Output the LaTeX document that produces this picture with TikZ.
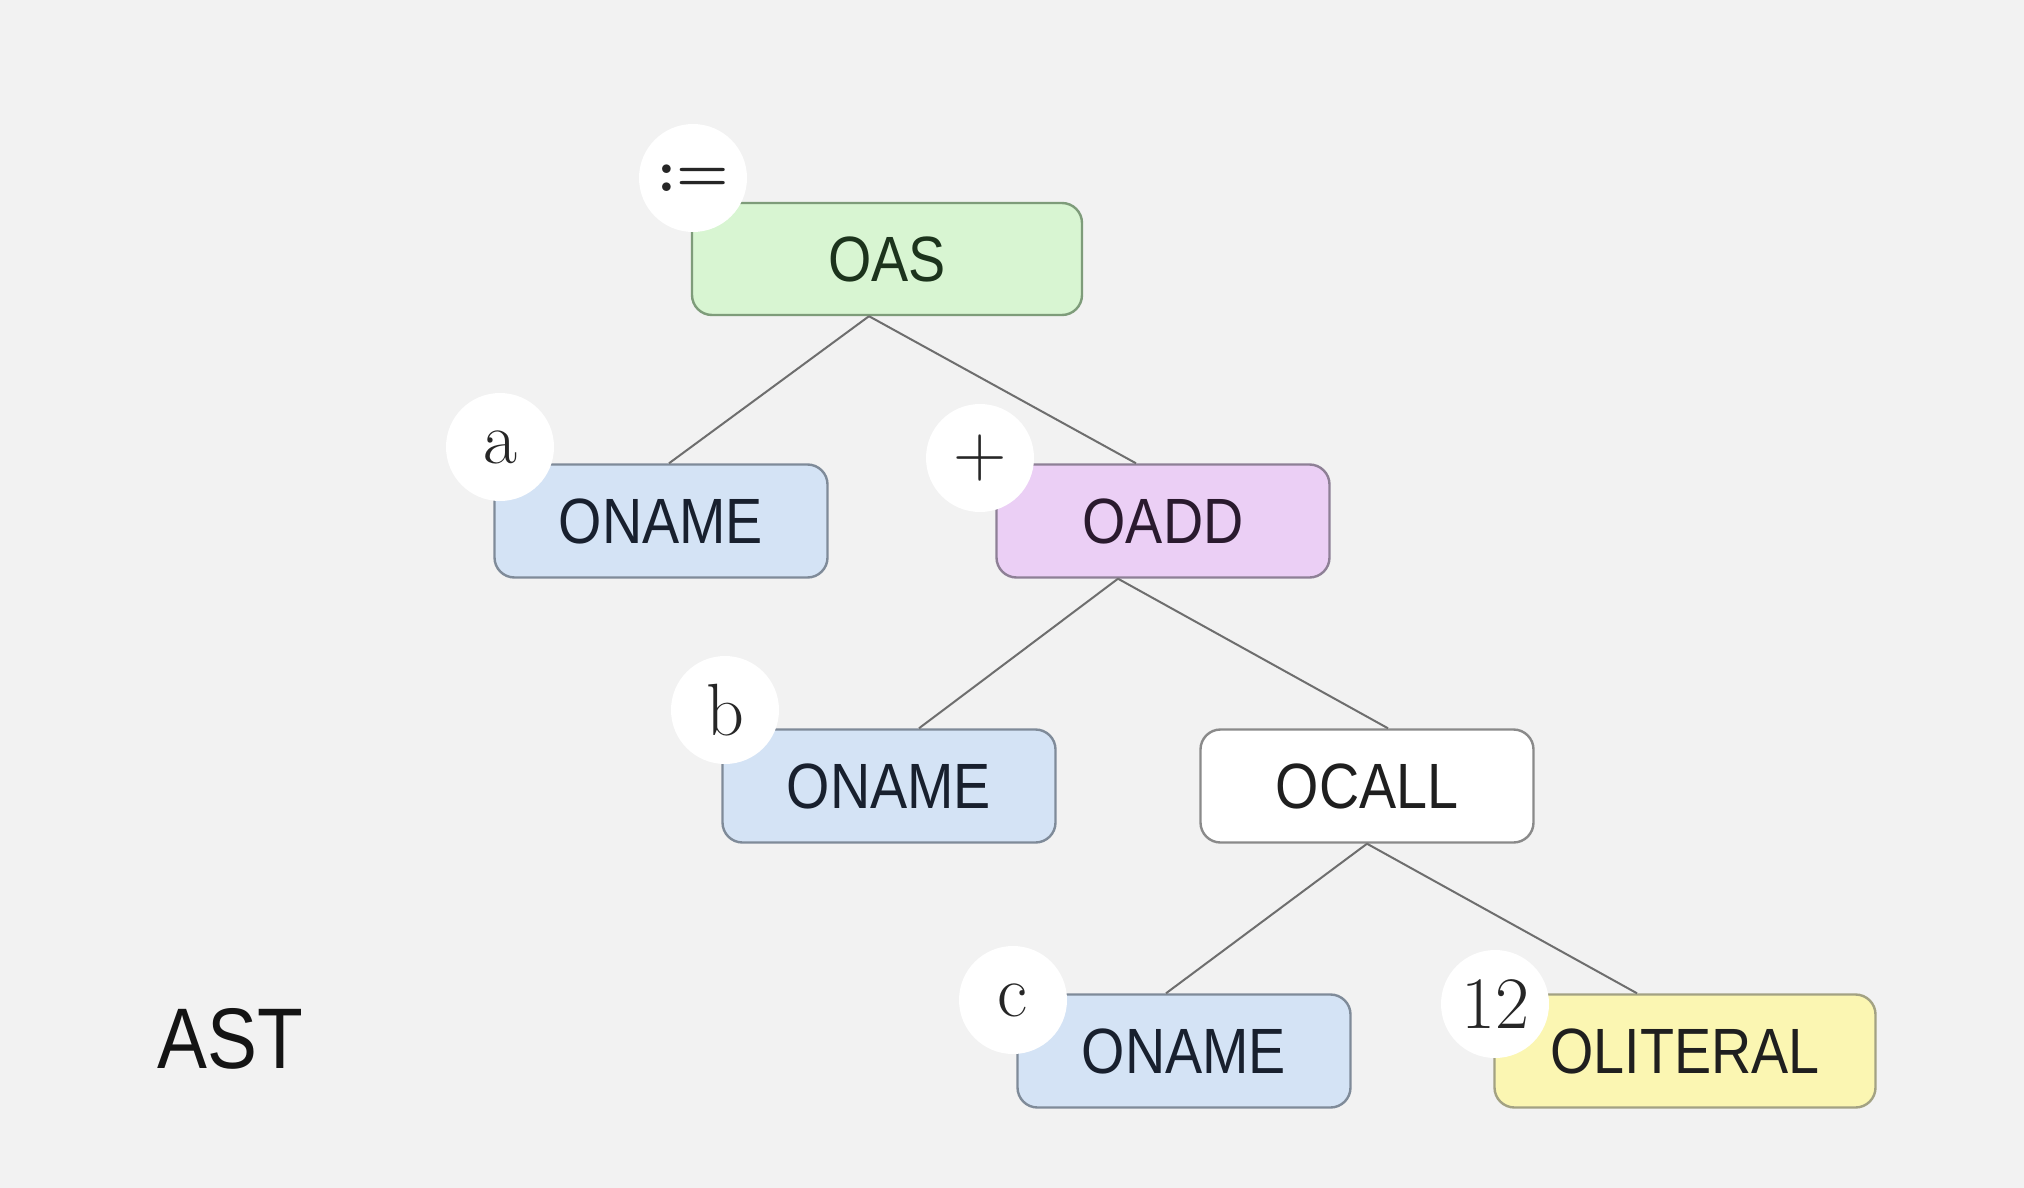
\documentclass[tikz,border=0pt]{standalone}
\usepackage{fontspec}
\newfontfamily\boxfont[FakeStretch=0.87]{Liberation Sans}
\definecolor{bg}{HTML}{F2F2F2}
\definecolor{edgegray}{HTML}{6E6E6E}
\definecolor{asfill}{HTML}{D8F5D2}
\definecolor{asdraw}{HTML}{7E9C7A}
\definecolor{astext}{HTML}{1C331C}
\definecolor{namefill}{HTML}{D4E3F5}
\definecolor{namedraw}{HTML}{7F8B99}
\definecolor{nametext}{HTML}{18202E}
\definecolor{addfill}{HTML}{EBCFF5}
\definecolor{adddraw}{HTML}{8E8096}
\definecolor{addtext}{HTML}{2A1A2E}
\definecolor{calldraw}{HTML}{8A8A8A}
\definecolor{litfill}{HTML}{FBF6B2}
\definecolor{litdraw}{HTML}{A3A283}
\begin{document}
\begin{tikzpicture}[x=0.5pt,y=-0.5pt,
  opbox/.style={rectangle, rounded corners=10pt, line width=1.2pt,
    minimum width=166.5pt, minimum height=56.5pt, inner sep=0pt,
    font=\boxfont\fontsize{32}{36}\selectfont},
  namebox/.style={opbox, fill=namefill, draw=namedraw, text=nametext},
  valtag/.style={circle, fill=white, minimum size=54pt, inner sep=0pt,
    font=\fontsize{37}{40}\selectfont, text=black!85},
  link/.style={draw=edgegray, line width=1pt}]
  % canvas
  \fill[bg] (0,0) rectangle (2024,1188);
  \useasboundingbox (0,0) rectangle (2024,1188);

  % operator nodes
  \node[opbox, fill=asfill, draw=asdraw, text=astext, minimum width=195pt, minimum height=56pt] (oas) at (887,259) {OAS};
  \node[namebox] (na) at (661,521) {ONAME};
  \node[opbox, fill=addfill, draw=adddraw, text=addtext] (oadd) at (1163,521) {OADD};
  \node[namebox] (nb) at (889,786) {ONAME};
  \node[opbox, fill=white, draw=calldraw, text=black!88] (ocall) at (1367,786) {OCALL};
  \node[namebox] (nc) at (1184,1051) {ONAME};
  \node[opbox, fill=litfill, draw=litdraw, text=black!88, minimum width=190.5pt] (olit) at (1685,1051) {OLITERAL};

  % tree edges
  \draw[link] ([xshift=-9pt]oas.south) -- ([xshift=4pt]na.north);
  \draw[link] ([xshift=-9pt]oas.south) -- ([xshift=-13.5pt]oadd.north);
  \draw[link] ([xshift=-22.5pt]oadd.south) -- ([xshift=15pt]nb.north);
  \draw[link] ([xshift=-22.5pt]oadd.south) -- ([xshift=10.5pt]ocall.north);
  \draw[link] (ocall.south) -- ([xshift=-9pt]nc.north);
  \draw[link] (ocall.south) -- ([xshift=-24pt]olit.north);

  % source tokens
  \node[valtag, font=\bfseries\fontsize{30}{34}\selectfont] (tas) at (693,178) {:=};
  \node[valtag] (ta) at (500,447) {a};
  \node[valtag] (tadd) at (980,458) {+};
  \node[valtag] (tb) at (725,710) {b};
  \node[valtag] (tc) at (1013,1000) {c};
  \node[valtag] (tlit) at (1495,1004) {12};

  % caption
  \node[font=\boxfont\fontsize{43}{46}\selectfont, text=black!92] (cap) at (230,1039) {AST};
\end{tikzpicture}
\end{document}
